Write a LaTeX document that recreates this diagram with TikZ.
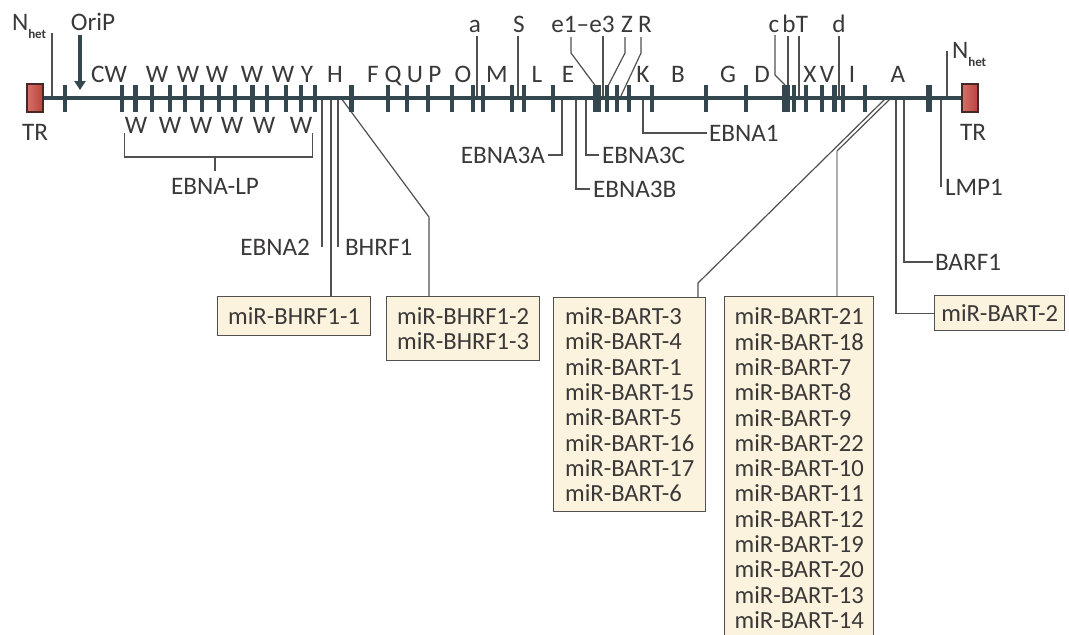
\documentclass[tikz,border=0pt]{standalone}
\usepackage{fontspec}
\setmainfont{Carlito}
\usepackage{xcolor}
\usepackage{tikz}
\usetikzlibrary{arrows.meta, positioning, calc}
\definecolor{genomeblue}{RGB}{52,71,79}
\definecolor{trred}{RGB}{186,66,60}
\definecolor{trredlight}{RGB}{214,112,106}
\definecolor{trdark}{RGB}{70,40,38}
\definecolor{mirbg}{RGB}{251,243,221}
\definecolor{linegray}{RGB}{80,80,80}
\definecolor{bartgray}{RGB}{175,175,175}
\definecolor{txtgray}{RGB}{58,56,56}
\tikzset{
  lbl/.style={inner sep=0pt, outer sep=0pt, text=txtgray,
    font=\fontsize{12.6}{12.65}\selectfont},
  seglbl/.style={lbl, anchor=base},
  trbox/.style={rectangle, draw=trdark, line width=0.6pt,
    left color=trredlight, right color=trred,
    minimum width=8pt, minimum height=14pt, inner sep=0pt},
  mirbox/.style={rectangle, draw=linegray, line width=0.7pt, fill=mirbg,
    align=left, anchor=north west, inner sep=0pt, text=txtgray,
    font=\fontsize{12.3}{12.65}\selectfont},
  genome/.style={line width=1.8pt, genomeblue},
  conn/.style={line width=0.6pt, linegray},
  connL/.style={line width=0.7pt, bartgray},
  oriarrow/.style={-{Triangle[length=4.5pt, width=5.5pt]}, line width=2pt, genomeblue}
}

\begin{document}
\begin{tikzpicture}[x=0.5pt, y=-0.5pt]
  \useasboundingbox (0,0) rectangle (1069,634);

  % Points on the genome
  \foreach \n/\x in {gNL/52, ga/477, gS/518, ge3/603, gR/620, gb/788, gT/799,
      gd/839, gNR/947, gE2/322, gB1/331, gBH/338, gB2/341, g3A/562, g3B/576,
      g3C/586, gE1/643, gBa/886, gBb/891, gBr/896, gBF/904, gL/941}
    \coordinate (\n) at (\x,98);
  \coordinate (gOri) at (80,90);
  \coordinate (ge1) at (597,88);
  \coordinate (gZ) at (607,88);
  \coordinate (gc) at (785,85);

  % Terminal repeats
  \node[trbox] (trL) at (35,98) {};
  \node[trbox] (trR) at (970,98) {};
  \node[seglbl] (trLl) at (35,140) {TR};
  \node[seglbl] (trRl) at (973,140) {TR};

  % Labels above the genome
  \node[lbl, anchor=base west] (nhetL) at (12,30)
    {N\raisebox{-4pt}{\fontsize{6.5}{6.5}\selectfont\bfseries het}};
  \node[lbl, anchor=base west] (nhetR) at (952,58)
    {N\raisebox{-4pt}{\fontsize{6.5}{6.5}\selectfont\bfseries het}};
  \node[seglbl] (orip) at (93,30) {OriP};
  \foreach \n/\x/\t in {la/475/a, lS/519/S, e13/583/e1--e3, lZ/627/Z, lR/645/R,
      lc/774/c, lb/789/b, lT/802/T, ld/839/d}
    \node[seglbl] (\n) at (\x,32) {\t};

  % Fragment letters
  \foreach \x/\t [count=\i] in {109/CW, 157/W, 188/W, 217/W, 252/W, 283/W,
      307/Y, 335/H, 373/F, 393/Q, 415/U, 435/P, 463/O, 497/M, 537/L, 568/E,
      643/K, 678/B, 728/G, 762/D, 810/X, 827/V, 852/I, 898/A}
    \node[seglbl] (s\i) at (\x,82) {\t};
  \foreach \x [count=\i] in {136,170,201,232,264,301}
    \node[seglbl] (w\i) at (\x,133) {W};

  % Gene labels
  \node[seglbl] (lp) at (215,194) {EBNA-LP};
  \node[lbl, anchor=base east] (ebna2) at (310,255) {EBNA2};
  \node[lbl, anchor=base west] (bhrf1) at (345,255) {BHRF1};
  \node[lbl, anchor=base east] (e3a) at (545,163) {EBNA3A};
  \node[lbl, anchor=base west] (e3c) at (602,163) {EBNA3C};
  \node[lbl, anchor=base west] (e3b) at (593,197) {EBNA3B};
  \node[lbl, anchor=base west] (ebna1) at (709,141) {EBNA1};
  \node[lbl, anchor=base west] (lmp1) at (945,195) {LMP1};
  \node[lbl, anchor=base west] (barf1) at (935,270) {BARF1};

  % miRNA boxes
  \node[mirbox, minimum width=76.5pt, minimum height=19.5pt] (bhrfA) at (217,296)
    {miR-BHRF1-1};
  \node[mirbox, minimum width=76.5pt, minimum height=32pt] (bhrfB) at (386,296)
    {miR-BHRF1-2\\miR-BHRF1-3};
  \node[mirbox, minimum width=76pt, minimum height=107pt] (bartA) at (553,297)
    {miR-BART-3\\miR-BART-4\\miR-BART-1\\miR-BART-15\\miR-BART-5\\miR-BART-16\\miR-BART-17\\miR-BART-6};
  \node[mirbox, minimum width=74.5pt, minimum height=171.5pt] (bartB) at (724,296)
    {miR-BART-21\\miR-BART-18\\miR-BART-7\\miR-BART-8\\miR-BART-9\\miR-BART-22\\miR-BART-10\\miR-BART-11\\miR-BART-12\\miR-BART-19\\miR-BART-20\\miR-BART-13\\miR-BART-14};
  \node[mirbox, minimum width=65pt, minimum height=17.5pt] (bart2) at (934,295)
    {miR-BART-2};

  % Connectors above
  \draw[conn] (gNL) -- ++(0,-65);
  \draw[conn] (gNR) -- ++(0,-47);
  \foreach \g/\n in {ga/la, gS/lS, ge3/e13, gb/lb, gT/lT, gd/ld}
    \draw[conn, shorten >=2pt] (\g) -- (\g |- \n.south);
  \draw[conn, shorten >=2.5pt] (ge1) -- ++(-26,-35) coordinate (ke1) -- (ke1 |- e13.south);
  \draw[conn, shorten >=2.5pt] (gZ) -- ++(18,-35) coordinate (kZ) -- (kZ |- lZ.south);
  \draw[conn, shorten >=2.5pt] (gR) -- ++(21,-45) coordinate (kR) -- (kR |- lR.south);
  \draw[conn, shorten >=1.5pt] (gc) -- ++(-10,-10) coordinate (kc) -- (kc |- lc.south);
  \draw[oriarrow, shorten <=2.5pt] (orip.south -| gOri) -- (gOri);

  % Connectors below
  \draw[conn] (w1.south west) -- ++(0,24) -| (w6.south east);
  \draw[conn] (lp.north) ++(0,-7) -- ++(0,-13);
  \draw[conn] (gE2) -- (gE2 |- ebna2.east);
  \draw[conn] (gB1) -- (gB1 |- bhrfA.north);
  \draw[conn] (gBH) -- (gBH |- bhrf1.west);
  \draw[conn] (gB2) -- ++(88,119) coordinate (kB2) -- (kB2 |- bhrfB.north);
  \draw[conn, shorten >=1.5pt] (g3A) |- (e3a.east);
  \draw[conn, shorten >=1.5pt] (g3B) |- (e3b.west);
  \draw[conn, shorten >=1.5pt] (g3C) |- (e3c.west);
  \draw[conn, shorten >=1pt] (gE1) |- (ebna1.west);
  \draw[conn] (gBa) -- ++(-188,185) coordinate (kBa) -- (kBa |- bartA.north);
  \draw[conn] (gBb) -- ++(-54,53) coordinate (kBb);
  \draw[connL] (kBb) -- (kBb |- bartB.north);
  \draw[conn] (gBr) |- (bart2.west);
  \draw[conn, shorten >=1pt] (gBF) |- (barf1.west);
  \draw[conn] (gL) -- (gL |- lmp1.west);

  % Draw genome with fragment ticks
  \draw[genome] (trL.east) -- (trR.west);
  \foreach \x/\w in {65/2, 122/2, 135/2.5, 152/2, 170/2, 185/2, 202/2, 219/2,
      235/2, 252/2.5, 267/2, 286/2, 301/2, 315/2, 351/2.5, 388/2, 407/2, 428/2,
      452/2, 473/2, 483/2, 512/2, 524/2, 553/2, 597/4.2, 607/2, 617/2, 629/2,
      652/2, 706/2, 746/2, 786/4, 794/2, 806/2, 822/2, 834/2.5, 843/2, 865/2,
      929/3}
    \draw[genomeblue, line width=\w pt] (\x,85) -- (\x,112);
\end{tikzpicture}
\end{document}
